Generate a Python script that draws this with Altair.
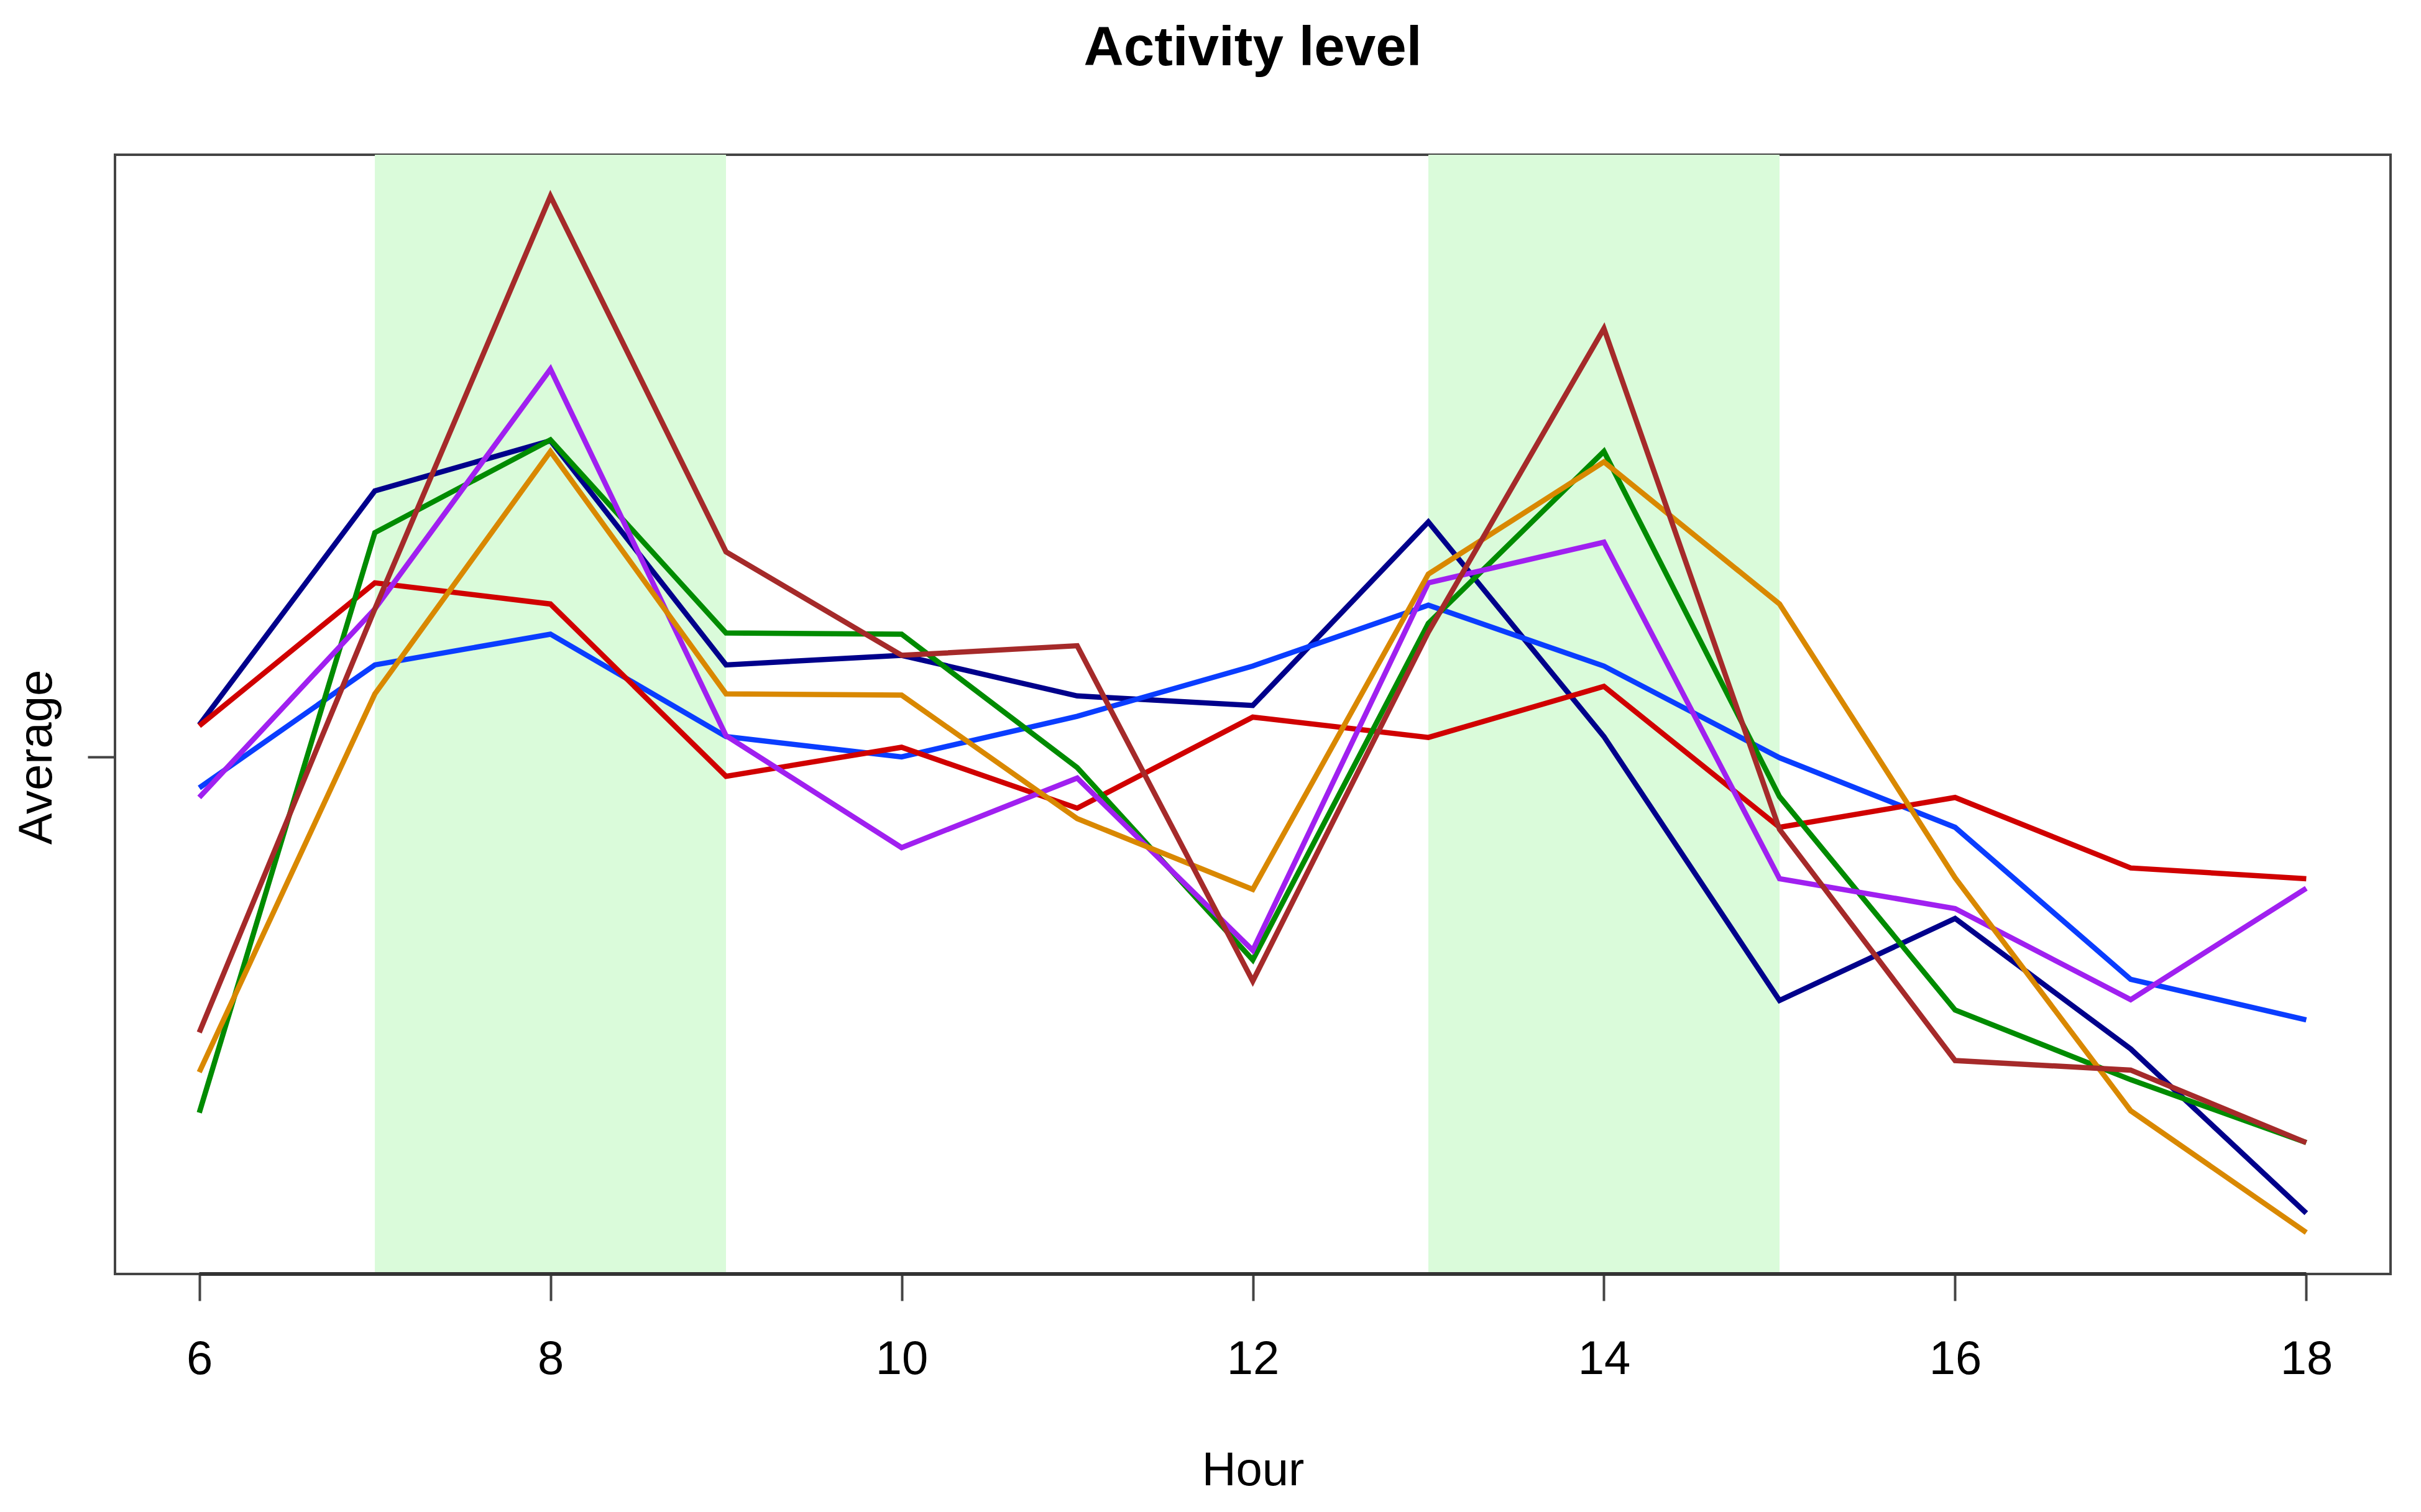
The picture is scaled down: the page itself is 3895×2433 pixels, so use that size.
import altair as alt
import pandas as pd

# ---- data ----
hours = [6, 7, 8, 9, 10, 11, 12, 13, 14, 15, 16, 17, 18]

series_names = ["S1", "S2", "S3", "S4", "S5", "S6", "S7"]
series_colors = ["#00008B", "#0a3dff", "#d00000", "#008B00", "#a020f0", "#d98800", "#a52a2a"]

s1 = [0.11, 0.917, 1.09, 0.317, 0.35, 0.21, 0.177, 0.81, 0.07, -0.84, -0.557, -1.007, -1.573]
s2 = [-0.107, 0.317, 0.423, 0.07, 0.0, 0.14, 0.313, 0.523, 0.313, -0.003, -0.243, -0.767, -0.907]
s3 = [0.107, 0.6, 0.527, -0.067, 0.033, -0.177, 0.137, 0.067, 0.243, -0.243, -0.14, -0.383, -0.42]
s4 = [-1.227, 0.773, 1.093, 0.427, 0.423, -0.037, -0.7, 0.46, 1.053, -0.137, -0.873, -1.113, -1.33]
s5 = [-0.14, 0.51, 1.337, 0.073, -0.313, -0.073, -0.667, 0.6, 0.74, -0.42, -0.523, -0.837, -0.453]
s6 = [-1.087, 0.217, 1.053, 0.217, 0.213, -0.213, -0.457, 0.63, 1.017, 0.527, -0.417, -1.22, -1.64]
s7 = [-0.95, 0.51, 1.933, 0.707, 0.35, 0.383, -0.773, 0.43, 1.477, -0.25, -1.047, -1.08, -1.33]

band_start = [7, 13]
band_end = [9, 15]

x_ticks = [6, 8, 10, 12, 14, 16, 18]
y_ticks = [0]

# ---- build tables ----
all_series = [s1, s2, s3, s4, s5, s6, s7]
rows = []
for name, vals in zip(series_names, all_series):
    for h, v in zip(hours, vals):
        rows.append({"series": name, "hour": h, "value": v})
df = pd.DataFrame(rows)

bands_df = pd.DataFrame({"start": band_start, "end": band_end})
axis_df = pd.DataFrame({"a": [min(x_ticks)], "b": [max(x_ticks)]})

# R-style 4% axis extension
xmin, xmax = min(hours), max(hours)
xpad = 0.04 * (xmax - xmin)
allv = [v for s in all_series for v in s]
ymin, ymax = min(allv), max(allv)
ypad = 0.04 * (ymax - ymin)

W, H = 3661, 1801
FONT = "Liberation Sans"

x_scale = alt.Scale(domain=[xmin - xpad, xmax + xpad], nice=False, zero=False)
y_scale = alt.Scale(domain=[ymin - ypad, ymax + ypad], nice=False, zero=False)

x_axis = alt.Axis(
    values=x_ticks, title="Hour", grid=False, domain=False,
    tickSize=43, tickWidth=4, tickColor="#444",
    labelFont=FONT, labelFontSize=76, labelColor="black",
    labelBaseline="alphabetic", labelPadding=117, labelFlush=False, labelOverlap=False,
    titleFont=FONT, titleFontSize=76, titleFontWeight="normal", titleColor="black",
    titleBaseline="alphabetic", titleY=339,
)
y_axis = alt.Axis(
    values=y_ticks, labels=False, title="Average", grid=False, domain=False,
    tickSize=44, tickWidth=4, tickColor="#444",
    titleFont=FONT, titleFontSize=76, titleFontWeight="normal", titleColor="black",
    titleAngle=-90, titleBaseline="alphabetic", titleX=-103, titleY=969, titleAlign="center",
)

bands = alt.Chart(bands_df).mark_rect(color="#dafbda").encode(
    x=alt.X("start:Q", scale=x_scale, axis=x_axis),
    x2="end:Q",
    y=alt.value(0),
    y2=alt.value(H),
)

lines = alt.Chart(df).mark_line(strokeWidth=8.5).encode(
    x=alt.X("hour:Q", scale=x_scale, axis=x_axis),
    y=alt.Y("value:Q", scale=y_scale, axis=y_axis),
    color=alt.Color("series:N", scale=alt.Scale(domain=series_names, range=series_colors), legend=None),
)

axis_line = alt.Chart(axis_df).mark_rule(color="#333", strokeWidth=6).encode(
    x=alt.X("a:Q", scale=x_scale, axis=x_axis),
    x2="b:Q",
    y=alt.value(H),
)

chart = alt.layer(bands, lines, axis_line).properties(
    width=W, height=H,
    title=alt.TitleParams(
        "Activity level", font=FONT, fontSize=89, fontWeight="bold", color="black",
        anchor="middle", frame="group", offset=55, baseline="alphabetic",
    ),
    padding={"left": 177, "top": 241, "right": 40, "bottom": 370},
    autosize=alt.AutoSizeParams(type="none"),
).configure_view(stroke="#444", strokeWidth=4)

chart.save("out.html", embed_options={"renderer": "svg", "actions": False})
